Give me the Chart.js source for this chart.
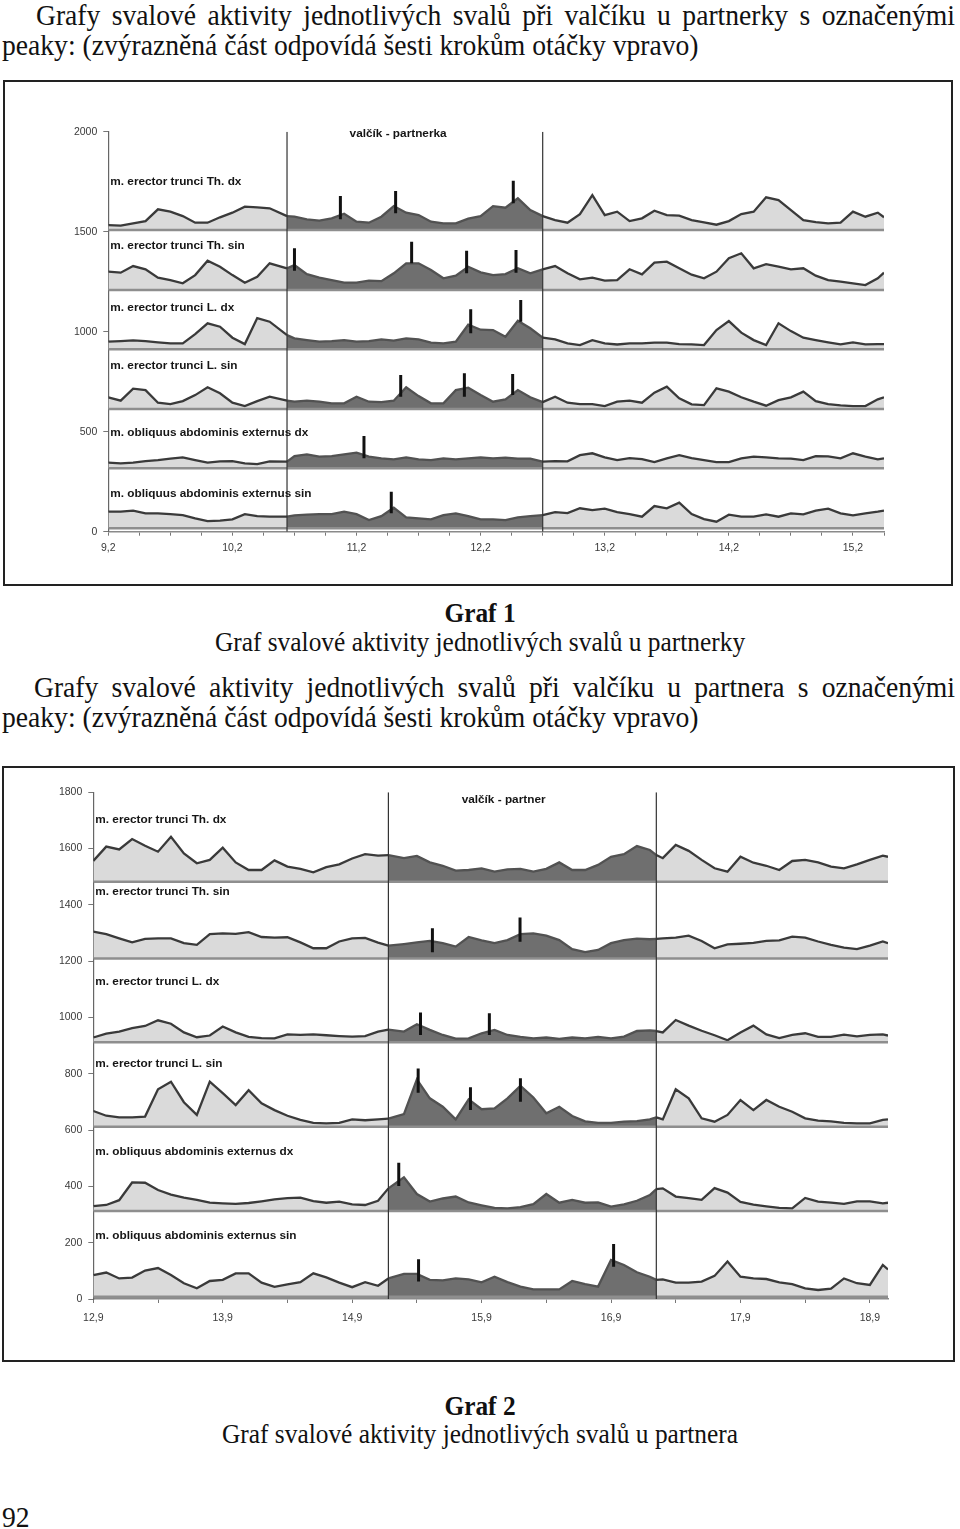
<!DOCTYPE html>
<html lang="cs">
<head>
<meta charset="utf-8">
<title>Graf svalové aktivity</title>
<script src="https://cdn.jsdelivr.net/npm/chart.js@4.4.1/dist/chart.umd.min.js"></script>
<style>
  html, body { margin: 0; padding: 0; background: #fff; }
  body { width: 960px; height: 1529px; position: relative; overflow: hidden;
         font-family: "Liberation Serif", "Times New Roman", serif; color: #111; }
  .txt { position: absolute; white-space: nowrap; font-size: 27.6px; line-height: 30px;
         transform: scaleY(1.05); transform-origin: 50% 50%; }
  .just { white-space: normal; text-align: justify; text-align-last: justify; }
  .cap { left: 0; width: 960px; text-align: center; font-size: 25.4px; transform: scaleY(1.1); }
  .box { position: absolute; border: 2px solid #222; box-sizing: border-box; }
  canvas { position: absolute; }
</style>
</head>
<body>
<div class="txt just" style="left:36px; top:1px; width:919px;">Grafy svalové aktivity jednotlivých svalů při valčíku u partnerky s označenými</div>
<div class="txt" style="left:2px; top:31px;">peaky: (zvýrazněná část odpovídá šesti krokům otáčky vpravo)</div>

<div class="box" style="left:3px; top:80px; width:950px; height:506px;"></div>
<canvas id="chartA" width="944" height="500" style="left:6px; top:83px;"></canvas>

<div class="txt cap" style="top:597px; font-weight:bold;">Graf 1</div>
<div class="txt cap" style="top:626px;">Graf svalové aktivity jednotlivých svalů u partnerky</div>

<div class="txt just" style="left:34px; top:673px; width:921px;">Grafy svalové aktivity jednotlivých svalů při valčíku u partnera s označenými</div>
<div class="txt" style="left:2px; top:703px;">peaky: (zvýrazněná část odpovídá šesti krokům otáčky vpravo)</div>

<div class="box" style="left:2px; top:766px; width:953px; height:596px;"></div>
<canvas id="chartB" width="947" height="590" style="left:5px; top:769px;"></canvas>

<div class="txt cap" style="top:1390px; font-weight:bold;">Graf 2</div>
<div class="txt cap" style="top:1418px;">Graf svalové aktivity jednotlivých svalů u partnera</div>

<div class="txt" style="left:2px; top:1503px;">92</div>

<script>
(function () {
  const muscles = [
    "m. erector trunci Th. dx",
    "m. erector trunci Th. sin",
    "m. erector trunci L. dx",
    "m. erector trunci L. sin",
    "m. obliquus abdominis externus dx",
    "m. obliquus abdominis externus sin",
  ];

  // --- Graf 1: valčík - partnerka ---
  const timeA = [9.2, 9.3, 9.4, 9.5, 9.6, 9.7, 9.8, 9.9, 10.0, 10.1, 10.2, 10.3, 10.4, 10.5, 10.64,
    10.7, 10.8, 10.9, 11.0, 11.1, 11.2, 11.3, 11.4, 11.5, 11.6, 11.7, 11.8, 11.9, 12.0, 12.1, 12.2, 12.3,
    12.4, 12.5, 12.6, 12.7, 12.8, 12.9, 13.0, 13.1, 13.2, 13.3, 13.4, 13.5, 13.6, 13.7, 13.8, 13.9, 14.0,
    14.1, 14.2, 14.3, 14.4, 14.5, 14.6, 14.7, 14.8, 14.9, 15.0, 15.1, 15.2, 15.3, 15.4, 15.45];
  const thDxA = [1533, 1530, 1542, 1553, 1612, 1600, 1578, 1545, 1545, 1572, 1595, 1625, 1622, 1617, 1578,
    1575, 1562, 1555, 1567, 1590, 1550, 1545, 1575, 1628, 1595, 1583, 1550, 1542, 1542, 1565, 1578, 1628,
    1620, 1667, 1608, 1578, 1558, 1545, 1588, 1683, 1583, 1600, 1553, 1567, 1605, 1583, 1580, 1558, 1547,
    1535, 1553, 1588, 1600, 1672, 1658, 1608, 1558, 1548, 1542, 1545, 1600, 1575, 1595, 1572];
  const thSinA = [1300, 1295, 1328, 1312, 1270, 1258, 1242, 1283, 1355, 1325, 1283, 1245, 1275, 1342, 1317,
    1333, 1288, 1270, 1258, 1245, 1245, 1255, 1253, 1292, 1342, 1342, 1308, 1267, 1280, 1325, 1297, 1283,
    1288, 1317, 1292, 1312, 1328, 1292, 1262, 1270, 1255, 1258, 1312, 1287, 1345, 1350, 1317, 1285, 1267,
    1300, 1367, 1392, 1317, 1338, 1325, 1312, 1317, 1280, 1258, 1250, 1242, 1233, 1267, 1295];
  const lDxA = [950, 953, 957, 953, 947, 942, 942, 988, 1042, 1025, 970, 938, 1068, 1050, 983,
    967, 958, 950, 953, 958, 950, 953, 962, 955, 967, 962, 945, 942, 950, 1035, 1010, 1008,
    975, 1055, 1017, 970, 962, 942, 933, 958, 942, 936, 942, 942, 945, 945, 938, 937, 933,
    1008, 1053, 995, 958, 933, 1042, 1003, 970, 958, 947, 937, 947, 937, 938, 938];
  const lSinA = [672, 655, 715, 708, 645, 638, 653, 683, 722, 692, 645, 628, 653, 675, 655,
    650, 655, 650, 642, 642, 675, 650, 648, 655, 722, 678, 642, 642, 708, 720, 683, 650,
    662, 708, 672, 648, 675, 645, 638, 638, 628, 650, 655, 645, 695, 725, 667, 637, 633,
    717, 700, 672, 650, 630, 658, 672, 700, 653, 638, 632, 628, 628, 662, 672];
  const oDxA = [345, 342, 345, 353, 358, 365, 372, 358, 345, 352, 353, 342, 338, 352, 350,
    378, 387, 375, 378, 387, 395, 375, 367, 362, 372, 362, 358, 367, 362, 367, 372, 367,
    370, 365, 365, 350, 353, 352, 383, 392, 372, 358, 368, 363, 348, 367, 383, 368, 358,
    348, 348, 367, 375, 372, 367, 365, 358, 378, 377, 367, 392, 375, 362, 367];
  const oSinA = [100, 100, 105, 92, 92, 88, 83, 67, 53, 55, 62, 88, 78, 75, 75,
    82, 85, 88, 88, 100, 88, 58, 78, 120, 72, 67, 62, 83, 92, 78, 62, 62,
    58, 72, 78, 83, 98, 93, 117, 108, 115, 98, 88, 75, 128, 117, 145, 88, 63,
    50, 85, 75, 75, 87, 75, 92, 87, 105, 115, 92, 82, 92, 100, 105];
  const baseA = [1508, 1208, 912, 613, 317, 17];
  const turnA = [10.64, 12.7];

  // peaks (x, bottom, top) per muscle
  const peakXA = [[11.07, 11.515, 12.463], [10.70, 11.644, 12.087, 12.485], [12.12, 12.523],
    [11.556, 12.069, 12.458], [11.26], [11.48]];
  const peakLoA = [[1562, 1592, 1642], [1305, 1342, 1292, 1295], [992, 1050], [675, 675, 683], [367], [92]];
  const peakHiA = [[1678, 1703, 1755], [1417, 1450, 1405, 1408], [1112, 1158], [783, 792, 788], [478], [200]];

  const xTicksA = [9.2, 9.45, 9.7, 9.95, 10.2, 10.45, 10.7, 10.95, 11.2, 11.45, 11.7, 11.95, 12.2,
    12.45, 12.7, 12.95, 13.2, 13.45, 13.7, 13.95, 14.2, 14.45, 14.7, 14.95, 15.2, 15.45];
  const xLabelsA = ["9,2", "", "", "", "10,2", "", "", "", "11,2", "", "", "", "12,2",
    "", "", "", "13,2", "", "", "", "14,2", "", "", "", "15,2", ""];

  // --- Graf 2: valčík - partner ---
  const timeB = [12.9, 13.0, 13.1, 13.2, 13.3, 13.4, 13.5, 13.6, 13.7, 13.8, 13.9, 14.0, 14.1, 14.2,
    14.3, 14.4, 14.5, 14.6, 14.7, 14.8, 14.9, 15.0, 15.1, 15.18, 15.3, 15.4, 15.5, 15.6, 15.7, 15.8,
    15.9, 16.0, 16.1, 16.2, 16.3, 16.4, 16.5, 16.6, 16.7, 16.8, 16.9, 17.0, 17.1, 17.2, 17.25, 17.3,
    17.4, 17.5, 17.6, 17.7, 17.8, 17.9, 18.0, 18.1, 18.2, 18.3, 18.4, 18.5, 18.6, 18.7, 18.8, 18.9,
    19.0, 19.04];
  const thDxB = [1556, 1607, 1597, 1634, 1610, 1589, 1642, 1583, 1548, 1560, 1603, 1551, 1524, 1524,
    1558, 1536, 1528, 1516, 1534, 1544, 1565, 1580, 1575, 1577, 1566, 1574, 1551, 1539, 1522, 1524,
    1530, 1518, 1526, 1528, 1518, 1528, 1551, 1524, 1524, 1542, 1571, 1580, 1609, 1595, 1577, 1566,
    1613, 1592, 1560, 1530, 1518, 1571, 1550, 1539, 1524, 1556, 1560, 1551, 1536, 1530, 1544, 1560,
    1575, 1571];
  const thSinB = [1305, 1296, 1281, 1267, 1279, 1281, 1281, 1264, 1258, 1296, 1299, 1297, 1303, 1286,
    1284, 1285, 1267, 1246, 1246, 1270, 1281, 1283, 1266, 1255, 1261, 1267, 1272, 1264, 1252, 1286,
    1274, 1264, 1275, 1296, 1299, 1291, 1275, 1243, 1232, 1240, 1264, 1275, 1280, 1278, 1279, 1281,
    1284, 1291, 1272, 1246, 1260, 1262, 1265, 1272, 1274, 1287, 1284, 1270, 1258, 1248, 1243, 1255,
    1270, 1264];
  const lDxB = [929, 943, 950, 962, 970, 990, 978, 947, 930, 936, 968, 947, 931, 927,
    926, 940, 938, 940, 937, 934, 932, 934, 950, 957, 950, 976, 956, 938, 925, 926,
    944, 956, 938, 931, 926, 929, 924, 929, 926, 931, 926, 932, 952, 954, 952, 947,
    991, 971, 953, 937, 919, 947, 971, 940, 927, 938, 944, 931, 931, 939, 933, 938,
    940, 936];
  const lSinB = [668, 651, 645, 645, 648, 745, 772, 699, 654, 772, 731, 689, 742, 695,
    671, 651, 636, 626, 624, 626, 638, 635, 638, 641, 657, 780, 713, 683, 638, 709,
    674, 677, 713, 757, 716, 660, 683, 650, 631, 626, 626, 630, 632, 638, 645, 638,
    745, 713, 642, 630, 654, 707, 671, 707, 683, 665, 642, 634, 631, 626, 624, 624,
    636, 638];
  const oDxB = [330, 334, 351, 414, 413, 387, 371, 360, 352, 342, 340, 338, 341, 347,
    354, 358, 360, 348, 342, 346, 336, 334, 349, 393, 432, 373, 346, 357, 364, 343,
    333, 324, 322, 326, 337, 373, 342, 352, 342, 343, 328, 336, 349, 369, 390, 393,
    364, 358, 352, 394, 378, 345, 335, 329, 324, 322, 359, 346, 342, 338, 347, 347,
    340, 342];
  const oSinB = [85, 94, 73, 76, 101, 110, 85, 56, 38, 64, 68, 91, 91, 58,
    43, 52, 60, 91, 77, 58, 42, 60, 47, 73, 89, 89, 68, 66, 73, 70,
    59, 79, 60, 44, 34, 34, 34, 64, 53, 44, 139, 121, 95, 79, 68, 70,
    58, 58, 62, 82, 133, 79, 73, 71, 59, 53, 38, 32, 37, 73, 56, 50,
    121, 105];
  const baseB = [1482, 1210, 912, 612, 313, 8];
  const turnB = [15.18, 17.25];

  const peakXB = [[], [15.52, 16.197], [15.428, 15.96], [15.41, 15.814, 16.2], [15.26], [15.413, 16.92]];
  const peakLoB = [[], [1232, 1269], [938, 938], [733, 671, 701], [401], [62, 115]];
  const peakHiB = [[], [1317, 1355], [1018, 1015], [819, 752, 784], [484], [141, 195]];

  const xTicksB = [12.9, 13.4, 13.9, 14.4, 14.9, 15.4, 15.9, 16.4, 16.9, 17.4, 17.9, 18.4, 18.9];
  const xLabelsB = ["12,9", "", "13,9", "", "14,9", "", "15,9", "", "16,9", "", "17,9", "", "18,9"];

  const LINE = "#3a3a3a";
  const FILL = "#dadada";
  const DARK_LINE = "#525252";
  const DARK_FILL = "#6f6f6f";
  const SANS = "'Liberation Sans', Arial, sans-serif";

  function toPoints(xs, ys) {
    return xs.map((x, i) => ({ x: x, y: ys[i] }));
  }

  function peakPoints(xs, lo, hi) {
    const out = [];
    xs.forEach((x, i) => {
      out.push({ x: x, y: lo[i] }, { x: x, y: hi[i] }, { x: x, y: null });
    });
    return out;
  }

  const traceLabels = {
    id: "traceLabels",
    afterDatasetsDraw(chart, args, opts) {
      const ctx = chart.ctx;
      const ys = chart.scales.y;
      const xs = chart.scales.x;
      ctx.save();
      ctx.font = "bold 11.8px " + SANS;
      ctx.fillStyle = "#151515";
      ctx.textBaseline = "middle";
      ctx.textAlign = "left";
      opts.names.forEach((name, i) => {
        ctx.fillText(name, chart.chartArea.left + 2, ys.getPixelForValue(opts.at[i]));
      });
      ctx.textAlign = "center";
      ctx.fillText(opts.title, xs.getPixelForValue(opts.titleAt[0]), ys.getPixelForValue(opts.titleAt[1]));
      ctx.restore();
    },
  };

  function buildDatasets(time, series, bases, turn, peakX, peakLo, peakHi, yMax) {
    const inTurn = (c) => c.p0.parsed.x >= turn[0] - 1e-9 && c.p1.parsed.x <= turn[1] + 1e-9;
    const sets = [];
    series.forEach((values, i) => {
      sets.push({
        data: toPoints(time, values),
        borderColor: LINE,
        backgroundColor: FILL,
        borderWidth: 2.3,
        pointRadius: 0,
        fill: { value: bases[i] },
        order: 4,
        segment: {
          borderColor: (c) => (inTurn(c) ? DARK_LINE : undefined),
          backgroundColor: (c) => (inTurn(c) ? DARK_FILL : undefined),
        },
      });
      sets.push({
        data: [{ x: time[0], y: bases[i] }, { x: time[time.length - 1], y: bases[i] }],
        borderColor: "#8e8e8e",
        borderWidth: 2.5,
        pointRadius: 0,
        fill: false,
        order: 3,
      });
      if (peakX[i].length) {
        sets.push({
          data: peakPoints(peakX[i], peakLo[i], peakHi[i]),
          borderColor: "#111",
          borderWidth: 3,
          pointRadius: 0,
          fill: false,
          spanGaps: false,
          order: 1,
        });
      }
    });
    turn.forEach((t) => {
      sets.push({
        data: [{ x: t, y: 0 }, { x: t, y: yMax }],
        borderColor: "#333",
        borderWidth: 1.2,
        pointRadius: 0,
        fill: false,
        order: 2,
      });
    });
    return sets;
  }

  function drawChart(id, cfg) {
    const el = document.getElementById(id);
    return new Chart(el, {
      type: "line",
      data: {
        datasets: buildDatasets(cfg.time, cfg.series, cfg.bases, cfg.turn,
          cfg.peakX, cfg.peakLo, cfg.peakHi, cfg.yMax),
      },
      plugins: [traceLabels],
      options: {
        responsive: false,
        animation: false,
        events: [],
        layout: { padding: cfg.padding },
        plugins: {
          legend: { display: false },
          tooltip: { enabled: false },
          traceLabels: { names: muscles, at: cfg.labelAt, title: cfg.title, titleAt: cfg.titleAt },
        },
        scales: {
          x: {
            type: "linear",
            min: cfg.xTicks[0],
            max: cfg.time[cfg.time.length - 1],
            afterBuildTicks: (s) => {
              s.ticks = cfg.xTicks.map((v) => ({ value: v }));
            },
            afterFit: (s) => {
              s.height = cfg.xHeight;
            },
            ticks: {
              autoSkip: false,
              maxRotation: 0,
              padding: cfg.xPad,
              color: "#3a3a3a",
              font: { family: SANS, size: 10.5 },
              callback: (v, i) => cfg.xLabels[i],
            },
            grid: { drawOnChartArea: false, tickLength: 4, color: "#777" },
            border: { color: "#8a8a8a", width: 1.5 },
          },
          y: {
            min: 0,
            max: cfg.yMax,
            afterFit: (s) => {
              s.width = cfg.yWidth;
            },
            ticks: {
              stepSize: cfg.yStep,
              padding: 6,
              color: "#3a3a3a",
              font: { family: SANS, size: 10.5 },
              callback: (v) => String(v),
            },
            grid: { drawOnChartArea: false, tickLength: 5, color: "#777" },
            border: { color: "#666", width: 1.2 },
          },
        },
      },
    });
  }

  document.addEventListener("DOMContentLoaded", function () {
    drawChart("chartA", {
      time: timeA,
      series: [thDxA, thSinA, lDxA, lSinA, oDxA, oSinA],
      bases: baseA,
      turn: turnA,
      peakX: peakXA,
      peakLo: peakLoA,
      peakHi: peakHiA,
      yMax: 2000,
      yStep: 500,
      xTicks: xTicksA,
      xLabels: xLabelsA,
      padding: { left: 0, right: 66, top: 48.7, bottom: 0 },
      yWidth: 102.3,
      xHeight: 51.3,
      xPad: 6,
      labelAt: [1748, 1428, 1118, 828, 495, 192],
      title: "valčík - partnerka",
      titleAt: [11.535, 1988],
    });
    drawChart("chartB", {
      time: timeB,
      series: [thDxB, thSinB, lDxB, lSinB, oDxB, oSinB],
      bases: baseB,
      turn: turnB,
      peakX: peakXB,
      peakLo: peakLoB,
      peakHi: peakHiB,
      yMax: 1800,
      yStep: 200,
      xTicks: xTicksB,
      xLabels: xLabelsB,
      padding: { left: 0, right: 64, top: 23.3, bottom: 0 },
      yWidth: 88.3,
      xHeight: 60,
      xPad: 9,
      labelAt: [1704, 1447, 1127, 835, 522, 225],
      title: "valčík - partner",
      titleAt: [16.07, 1773],
    });
  });
})();
</script>
</body>
</html>
